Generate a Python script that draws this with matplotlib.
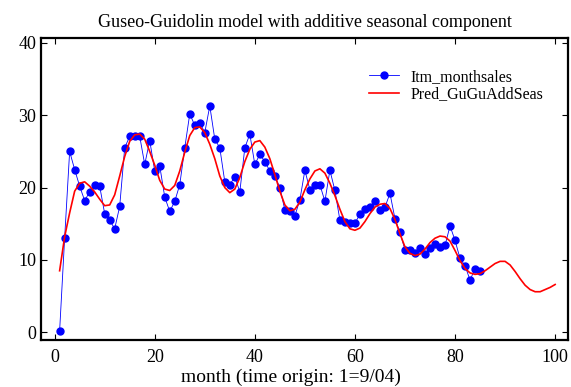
import numpy as np
import matplotlib
matplotlib.use("Agg")
import matplotlib.pyplot as plt

# monthly sales (months 1..85)
sales = [0.2, 13.0, 25.0, 22.5, 20.2, 18.2, 19.4, 20.3, 20.2, 16.4,
         15.5, 14.3, 17.4, 25.5, 27.1, 27.2, 27.1, 23.2, 26.5, 22.3,
         23.0, 18.7, 16.7, 18.1, 20.4, 25.5, 30.2, 28.6, 29.0, 27.6,
         31.3, 26.7, 25.5, 20.8, 20.4, 21.5, 19.4, 25.5, 27.4, 23.2,
         24.6, 23.6, 22.3, 21.6, 20.0, 16.9, 16.8, 16.1, 18.3, 22.4,
         19.7, 20.4, 20.4, 18.1, 22.4, 19.6, 15.5, 15.3, 15.1, 15.1,
         16.3, 17.0, 17.3, 18.1, 16.9, 17.3, 19.2, 15.7, 13.8, 11.4,
         11.4, 11.0, 11.7, 10.8, 11.6, 12.2, 11.8, 12.0, 14.7, 12.7,
         10.2, 9.2, 7.2, 8.8, 8.4]
months = np.arange(1, len(sales) + 1)

# fitted GG model with additive seasonality (months 1..100)
pred = [8.5, 13.2, 16.5, 19.5, 20.6, 20.8, 20.2, 19.4, 18.4, 17.5,
        17.6, 19.0, 21.6, 24.3, 26.4, 27.3, 27.4, 26.7, 25.0, 23.1,
        21.0, 19.8, 19.6, 20.3, 22.3, 24.9, 27.2, 28.3, 28.4, 27.6,
        26.0, 24.0, 21.6, 20.0, 19.3, 19.8, 21.4, 23.6, 25.3, 26.3,
        26.5, 25.6, 24.0, 21.8, 19.5, 17.6, 16.8, 17.0, 18.0, 19.7,
        21.2, 22.3, 22.6, 22.0, 20.6, 18.9, 17.0, 15.3, 14.3, 14.1,
        14.4, 15.3, 16.4, 17.3, 17.7, 17.8, 17.1, 15.6, 13.6, 11.8,
        10.9, 10.6, 10.8, 11.5, 12.4, 13.0, 13.3, 13.2, 12.6, 11.3,
        9.9, 8.8, 8.2, 8.0, 8.1, 8.5, 9.0, 9.5, 9.8, 9.8,
        9.3, 8.4, 7.4, 6.5, 5.9, 5.6, 5.6, 5.9, 6.2, 6.6]
pred_months = np.arange(1, len(pred) + 1)

plt.rcParams["font.family"] = ["Liberation Serif", "DejaVu Serif"]

fig = plt.figure(figsize=(5.71, 3.87), dpi=100)
ax = fig.add_axes([0.072, 0.121, 0.923, 0.781])

ax.plot(months, sales, "o-", color="blue", lw=0.6, ms=5,
        mec="blue", label="Itm_monthsales")
ax.plot(pred_months, pred, "-", color="red", lw=1.2, label="Pred_GuGuAddSeas")

ax.set_xlim(-2.7, 102.6)
ax.set_ylim(-1.1, 40.7)
ax.set_xticks([0, 20, 40, 60, 80, 100])
ax.set_yticks([0, 10, 20, 30, 40])
ax.tick_params(direction="in", top=True, right=True, labelsize=13, length=4)
ax.tick_params(axis="x", pad=6)
for s in ax.spines.values():
    s.set_linewidth(1.6)

ax.set_title("Guseo-Guidolin model with additive seasonal component", fontsize=13, pad=8)
ax.set_xlabel("month (time origin: 1=9/04)", fontsize=14)
ax.xaxis.set_label_coords(0.474, -0.095)
ax.legend(loc="upper right", frameon=False, numpoints=1, fontsize=11.5,
          bbox_to_anchor=(0.98, 0.945), handlelength=1.9, labelspacing=0.1,
          handletextpad=0.7)

plt.savefig("out.png", dpi=100)
